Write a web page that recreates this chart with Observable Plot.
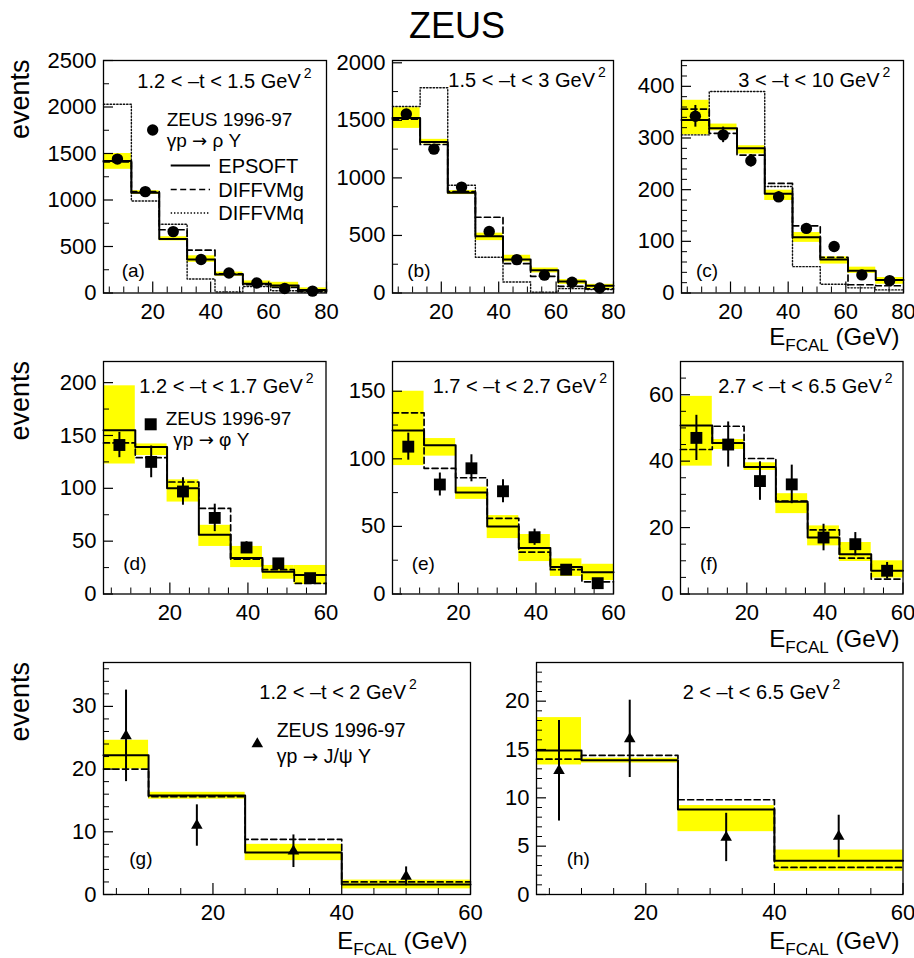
<!DOCTYPE html>
<html><head><meta charset="utf-8">
<script src="https://cdn.jsdelivr.net/npm/d3@7"></script>
<script src="https://cdn.jsdelivr.net/npm/@observablehq/plot@0.6"></script>
<style>
html,body{margin:0;padding:0;background:#fff;overflow:hidden;}
#fig{position:relative;width:914px;height:958px;font-family:"Liberation Sans",Arial,sans-serif;}
#fig svg{position:absolute;}
</style></head><body><div id="fig"></div>
<script>
// ---------- bin edges (E_FCAL, GeV) ----------
const rhoEdges = [3, 12.625, 22.25, 31.875, 41.5, 51.125, 60.75, 70.375, 80];
const phiEdges = [3, 11.143, 19.286, 27.429, 35.571, 43.714, 51.857, 60];
const psiEdges = [3, 10, 25, 40, 60];

// ---------- (a) rho, 1.2 < -t < 1.5 ----------
const aData   = [1440, 1090, 660, 360, 215, 108, 48, 20];
const aErr    = [25, 20, 16, 12, 10, 7, 5, 3];
const aEps    = [1420, 1078, 580, 360, 198, 100, 80, 32];
const aBandLo = [1330, 1060, 560, 330, 180, 85, 55, 12];
const aBandHi = [1500, 1100, 605, 400, 225, 130, 115, 55];
const aDiffG  = [1410, 1090, 680, 460, 205, 90, 60, 18];
const aDiffQ  = [2030, 990, 740, 150, 12, 70, 25, 10];
// ---------- (b) rho, 1.5 < -t < 3 ----------
const bData   = [1555, 1250, 920, 535, 290, 155, 93, 43];
const bErr    = [30, 25, 20, 15, 11, 8, 6, 4];
const bEps    = [1520, 1312, 870, 493, 290, 197, 101, 64];
const bBandLo = [1430, 1295, 855, 455, 270, 174, 75, 40];
const bBandHi = [1610, 1335, 890, 520, 328, 217, 116, 75];
const bDiffG  = [1510, 1290, 880, 658, 255, 145, 58, 35];
const bDiffQ  = [1620, 1783, 936, 310, 96, 8, 38, 30];
// ---------- (c) rho, 3 < -t < 10 ----------
const cData   = [342, 306, 256, 186, 125, 90, 35, 24];
const cErr    = [21, 15, 12, 10, 7, 6, 4, 3];
const cEps    = [335, 319, 280, 192, 108, 65, 43, 25];
const cBandLo = [306, 314, 269, 179, 98, 56, 38, 17];
const cBandHi = [373, 327, 285, 199, 117, 70, 50, 30];
const cDiffG  = [356, 309, 267, 212, 130, 69, 16, 14];
const cDiffQ  = [306, 390, 390, 206, 51, 17, 10, 6];
// ---------- (d) phi, 1.2 < -t < 1.7 ----------
const dData   = [141, 125, 97, 72, 44, 29, 15];
const dErr    = [12, 15, 13, 13, 5.5, 4, 3];
const dEps    = [155, 139, 100, 56, 34, 21, 18];
const dBandLo = [123, 131, 87, 45, 25, 14, 9];
const dBandHi = [197, 142, 108, 65, 45, 27, 27];
const dDiffG  = [143, 129, 106, 81, 33, 23, 10];
// ---------- (e) phi, 1.7 < -t < 2.7 ----------
const eData   = [109, 81, 93, 76, 42, 18, 8];
const eErr    = [10, 8.5, 10, 8.5, 6, 3, 3];
const eEps    = [121, 110, 75, 50, 34, 20, 16];
const eBandLo = [95, 102, 70, 41, 24, 13, 10];
const eBandHi = [150, 115, 79, 58, 44, 26, 22];
const eDiffG  = [134, 93, 86, 56, 31, 18, 9];
// ---------- (f) phi, 2.7 < -t < 6.5 ----------
const fData   = [47, 45, 34, 33, 17, 15, 7];
const fErr    = [6.8, 6.8, 5.8, 5.8, 4, 3.5, 2.5];
const fEps    = [50.7, 45.5, 38.2, 27.8, 17, 12, 7];
const fBandLo = [38.5, 43.5, 37.2, 24.2, 14.5, 9.8, 4.8];
const fBandHi = [59.5, 46.5, 39.5, 30.2, 20.5, 15.5, 10];
const fDiffG  = [43.5, 50.5, 40.8, 28, 19.3, 10.8, 4.5];
// ---------- (g) J/psi, 1.2 < -t < 2 ----------
const gData   = [25.3, 11, 6.9, 2.9];
const gErr    = [7.3, 3.3, 2.6, 1.5];
const gEps    = [22.2, 15.8, 6.7, 1.6];
const gBandLo = [20, 15.2, 5.4, 0.9];
const gBandHi = [24.6, 16.3, 8.0, 2.3];
const gDiffG  = [20, 15.6, 8.8, 2.0];
// ---------- (h) J/psi, 2 < -t < 6.5 ----------
const hData   = [12.8, 16.1, 5.9, 6.0];
const hErr    = [5.2, 4.0, 2.5, 2.2];
const hEps    = [14.9, 13.9, 8.8, 3.5];
const hBandLo = [13.4, 13.6, 6.5, 2.4];
const hBandHi = [18.3, 14.1, 9.2, 4.6];
const hDiffG  = [14.0, 14.4, 9.8, 2.8];

// ---------- axis tick labels ----------
const rhoXTicks = [20, 40, 60, 80];
const lowXTicks = [20, 40, 60];
const aYTicks = [0, 500, 1000, 1500, 2000, 2500];
const bYTicks = [0, 500, 1000, 1500, 2000];
const cYTicks = [0, 100, 200, 300, 400];
const dYTicks = [0, 50, 100, 150, 200];
const eYTicks = [0, 50, 100, 150];
const fYTicks = [0, 20, 40, 60];
const gYTicks = [0, 10, 20, 30];
const hYTicks = [0, 5, 10, 15, 20];

// ---------- text ----------
const tRanges = ["1.2 < –t < 1.5 GeV", "1.5 < –t < 3 GeV", "3 < –t < 10 GeV",
                 "1.2 < –t < 1.7 GeV", "1.7 < –t < 2.7 GeV", "2.7 < –t < 6.5 GeV",
                 "1.2 < –t < 2 GeV", "2 < –t < 6.5 GeV"];
const panelTags = ["(a)", "(b)", "(c)", "(d)", "(e)", "(f)", "(g)", "(h)"];
const modelNames = ["EPSOFT", "DIFFVMg", "DIFFVMq"];
const reactions = [["γp", "ρ Y"], ["γp", "φ Y"], ["γp", "J/ψ Y"]];

// ---------- layout (pixels) ----------
const layout = [
  {x0:103, x1:326, y0:59.5, y1:292},
  {x0:392, x1:613, y0:59.5, y1:292},
  {x0:680.5, x1:902.5, y0:59.5, y1:292},
  {x0:103, x1:325.5, y0:361, y1:593.5},
  {x0:392, x1:613, y0:361, y1:593.5},
  {x0:680, x1:902.5, y0:361, y1:593.5},
  {x0:103, x1:470, y0:662, y1:894},
  {x0:536, x1:902.5, y0:662, y1:894}
];

const minorTicks = (step, max, majors) => d3.range(step, max, step).filter(v => !majors.some(m => Math.abs(m - v) < 1e-9));

const panels = [
  {edges: rhoEdges, xdom:[3,80], ydom:[0,2500], data:aData, err:aErr, eps:aEps, lo:aBandLo, hi:aBandHi, g:aDiffG, q:aDiffQ, sym:"circle", r:5.7, xt:rhoXTicks, yt:aYTicks, ymin:250},
  {edges: rhoEdges, xdom:[3,80], ydom:[0,2020], data:bData, err:bErr, eps:bEps, lo:bBandLo, hi:bBandHi, g:bDiffG, q:bDiffQ, sym:"circle", r:5.7, xt:rhoXTicks, yt:bYTicks, ymin:250},
  {edges: rhoEdges, xdom:[3,80], ydom:[0,450], data:cData, err:cErr, eps:cEps, lo:cBandLo, hi:cBandHi, g:cDiffG, q:cDiffQ, sym:"circle", r:5.7, xt:rhoXTicks, yt:cYTicks, ymin:20},
  {edges: phiEdges, xdom:[3,60], ydom:[0,220], data:dData, err:dErr, eps:dEps, lo:dBandLo, hi:dBandHi, g:dDiffG, q:null, sym:"square", r:6.7, xt:lowXTicks, yt:dYTicks, ymin:25},
  {edges: phiEdges, xdom:[3,60], ydom:[0,172], data:eData, err:eErr, eps:eEps, lo:eBandLo, hi:eBandHi, g:eDiffG, q:null, sym:"square", r:6.7, xt:lowXTicks, yt:eYTicks, ymin:25},
  {edges: phiEdges, xdom:[3,60], ydom:[0,70], data:fData, err:fErr, eps:fEps, lo:fBandLo, hi:fBandHi, g:fDiffG, q:null, sym:"square", r:6.7, xt:lowXTicks, yt:fYTicks, ymin:5},
  {edges: psiEdges, xdom:[3,60], ydom:[0,37], data:gData, err:gErr, eps:gEps, lo:gBandLo, hi:gBandHi, g:gDiffG, q:null, sym:"triangle", r:4.3, xt:lowXTicks, yt:gYTicks, ymin:2},
  {edges: psiEdges, xdom:[3,60], ydom:[0,24], data:hData, err:hErr, eps:hEps, lo:hBandLo, hi:hBandHi, g:hDiffG, q:null, sym:"triangle", r:4.3, xt:lowXTicks, yt:hYTicks, ymin:1}
];

const fig = document.getElementById("fig");
const mL = 70, mR = 10, mT = 6, mB = 40;

panels.forEach((p, k) => {
  const L = layout[k];
  const W = L.x1 - L.x0, H = L.y1 - L.y0;
  const E = p.edges;
  const bins = E.slice(0, -1).map((e, i) => ({x1: e, x2: E[i + 1], lo: p.lo[i], hi: p.hi[i]}));
  const pts = p.data.map((v, i) => ({x: (E[i] + E[i + 1]) / 2, y: v, e: p.err[i]}));
  const step = vals => vals.flatMap((v, i) => [{x: E[i], y: v}, {x: E[i + 1], y: v}]);
  const xMinor = minorTicks(5, p.xdom[1] + 0.01, p.xt);
  const yMinor = minorTicks(p.ymin, p.ydom[1], p.yt);
  const marks = [
    Plot.rect(bins, {x1: "x1", x2: "x2", y1: "lo", y2: "hi", fill: "#ffff00"}),
  ];
  if (p.q) marks.push(Plot.line(step(p.q), {x: "x", y: "y", stroke: "#111", strokeWidth: 1.4, strokeDasharray: "1.4,1.9"}));
  marks.push(
    Plot.line(step(p.g), {x: "x", y: "y", stroke: "#000", strokeWidth: 1.7, strokeDasharray: "6,3.5"}),
    Plot.line(step(p.eps), {x: "x", y: "y", stroke: "#000", strokeWidth: 2}),
    Plot.ruleX(pts, {x: "x", y1: d => d.y - d.e, y2: d => d.y + d.e, stroke: "#000", strokeWidth: 2}),
    Plot.dot(pts, {x: "x", y: "y", symbol: p.sym, r: p.r, fill: "#000", stroke: "none"}),
    Plot.ruleX(xMinor, {x: d => d, insetTop: H - 6, stroke: "#000", strokeWidth: 1}),
    Plot.ruleX(p.xt, {x: d => d, insetTop: H - 11, stroke: "#000", strokeWidth: 1.2}),
    Plot.ruleY(yMinor, {y: d => d, insetRight: W - 6, stroke: "#000", strokeWidth: 1}),
    Plot.ruleY(p.yt, {y: d => d, insetRight: W - 10, stroke: "#000", strokeWidth: 1.2}),
    Plot.frame({stroke: "#000", strokeWidth: 1.3}),
    Plot.axisX(p.xt, {tickSize: 0, tickPadding: 10, tickFormat: d => String(d), label: null, fontSize: 22}),
    Plot.axisY(p.yt, {tickSize: 0, tickPadding: 7, tickFormat: d => String(d), label: null, fontSize: 22})
  );
  const svg = Plot.plot({
    width: W + mL + mR, height: H + mT + mB,
    marginLeft: mL, marginRight: mR, marginTop: mT, marginBottom: mB,
    x: {domain: p.xdom}, y: {domain: p.ydom},
    style: {fontFamily: "'Liberation Sans', Arial, sans-serif", fontSize: "22px", background: "transparent", overflow: "visible", color: "#000"},
    marks
  });
  svg.style.left = (L.x0 - mL) + "px";
  svg.style.top = (L.y0 - mT) + "px";
  fig.appendChild(svg);
});

// ---------- overlay text / legends ----------
const ov = d3.select(fig).append("svg")
  .attr("width", 914).attr("height", 958)
  .style("left", "0px").style("top", "0px").style("pointer-events", "none")
  .style("font-family", "'Liberation Sans', Arial, sans-serif");

function txt(x, y, s, size, anchor = "start") {
  return ov.append("text").attr("x", x).attr("y", y).attr("font-size", size)
    .attr("text-anchor", anchor).attr("fill", "#000").text(s);
}
function reaction(x, y, r, size) {
  const t = ov.append("text").attr("x", x).attr("y", y).attr("font-size", size).attr("fill", "#000");
  t.append("tspan").text(r[0] + " ");
  t.append("tspan").attr("font-family", "'DejaVu Sans', sans-serif").attr("font-size", size * 0.95).text("→");
  t.append("tspan").text(" " + r[1]);
  return t;
}

// title
txt(457, 38, "ZEUS", 36, "middle");

// t-range annotations with superscript 2
const tPos = [[137.3, 88.3], [448.3, 87.3], [738.3, 87.3], [139.3, 392.7], [432.7, 392.7], [718.3, 392.7], [259.3, 699.3], [682.7, 699.3]];
tRanges.forEach((s, i) => {
  const t = ov.append("text").attr("x", tPos[i][0]).attr("y", tPos[i][1]).attr("font-size", 20).attr("fill", "#000");
  t.append("tspan").text(s);
  t.append("tspan").attr("dx", 3).attr("dy", -10).attr("font-size", 14).text("2");
});

// panel tags
const tagPos = [[121.7, 276.7], [407.3, 276.7], [696, 276.7], [123.3, 570], [411.7, 570], [700, 570], [129.3, 865], [566.7, 865]];
panelTags.forEach((s, i) => txt(tagPos[i][0], tagPos[i][1], s, 19));

// y titles
[59.5, 361, 662].forEach(y0 => {
  ov.append("text").attr("transform", `translate(29,${y0}) rotate(-90)`)
    .attr("text-anchor", "end").attr("font-size", 27).attr("fill", "#000").text("events");
});

// x titles
[[899.5, 344.5], [899.5, 647], [467.5, 948.5], [899.5, 948.5]].forEach(([x, y]) => {
  const t = ov.append("text").attr("x", x).attr("y", y).attr("text-anchor", "end").attr("font-size", 24).attr("fill", "#000");
  t.append("tspan").text("E");
  t.append("tspan").attr("font-size", 17).attr("dy", 6).text("FCAL");
  t.append("tspan").attr("dy", -6).text(" (GeV)");
});

// legend (a)
ov.append("circle").attr("cx", 152.7).attr("cy", 130).attr("r", 5.7).attr("fill", "#000");
txt(166.7, 125.5, "ZEUS 1996-97", 19);
reaction(166.7, 147, reactions[0], 19);
const legY = [165.5, 189.5, 213];
const legDash = [null, "6,3.5", "1.4,1.9"];
const legW = [2, 1.7, 1.4];
modelNames.forEach((m, i) => {
  const l = ov.append("line").attr("x1", 170.7).attr("x2", 210).attr("y1", legY[i]).attr("y2", legY[i])
    .attr("stroke", "#000").attr("stroke-width", legW[i]);
  if (legDash[i]) l.attr("stroke-dasharray", legDash[i]);
  txt(218.3, legY[i] + 7, m, 20);
});

// legend (d)
ov.append("path").attr("d", d3.symbol(d3.symbolSquare, 144)()).attr("transform", "translate(150.7,424.3)").attr("fill", "#000");
txt(165.7, 424.5, "ZEUS 1996-97", 19);
reaction(173.3, 446, reactions[1], 19);

// legend (g)
ov.append("path").attr("d", d3.symbol(d3.symbolTriangle, 58)()).attr("transform", "translate(257.3,744)").attr("fill", "#000");
txt(276.7, 736.7, "ZEUS 1996-97", 19.5);
reaction(276.7, 762.7, reactions[2], 19.5);
</script>
</body></html>
